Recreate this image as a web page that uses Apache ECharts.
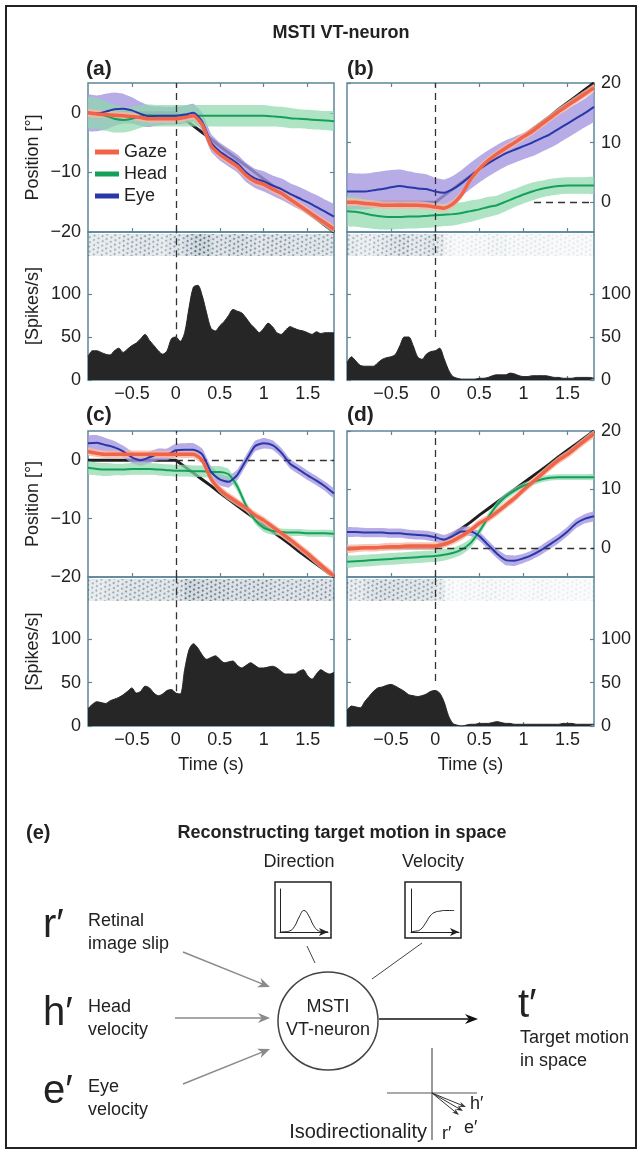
<!DOCTYPE html>
<html>
<head>
<meta charset="utf-8">
<script src="https://cdn.jsdelivr.net/npm/echarts@6/dist/echarts.min.js"></script>
<style>
html, body { margin: 0; padding: 0; background: #fff; }
#main { width: 642px; height: 1152px; }
</style>
</head>
<body>
<div id="main"></div>
<script>
// time base for eye/head traces (s) and for the spike density
const T = [-1.0,-0.9,-0.8,-0.7,-0.6,-0.5,-0.4,-0.3,-0.2,-0.1,0.0,0.1,0.2,0.3,0.4,0.5,0.6,0.7,0.8,0.9,1.0,1.1,1.2,1.3,1.4,1.5,1.6,1.7,1.8];
const TS = [-1.00,-0.95,-0.90,-0.85,-0.80,-0.75,-0.70,-0.65,-0.60,-0.55,-0.50,-0.45,-0.40,-0.35,-0.30,-0.25,-0.20,-0.15,-0.10,-0.05,0.00,
  0.05,0.10,0.15,0.20,0.25,0.30,0.35,0.40,0.45,0.50,0.55,0.60,0.65,0.70,0.75,0.80,0.85,0.90,0.95,1.00,1.05,1.10,1.15,1.20,1.25,1.30,1.35,1.40,1.45,1.50,1.55,1.60,1.65,1.70,1.75,1.80];
const RT = [-0.95,-0.85,-0.75,-0.65,-0.55,-0.45,-0.35,-0.25,-0.15,-0.05,0.05,0.15,0.25,0.35,0.45,0.55,0.65,0.75,0.85,0.95,1.05,1.15,1.25,1.35,1.45,1.55,1.65,1.75];
const X_TICKS = [-0.5, 0, 0.5, 1, 1.5];

// target position (deg)
const targetLeft  = [0,0,0,0,0,0,0,0,0,0,0,-1.1,-2.2,-3.3,-4.4,-5.6,-6.7,-7.8,-8.9,-10.0,-11.1,-12.2,-13.3,-14.4,-15.6,-16.7,-17.8,-18.9,-20.0];
const targetRight = [0,0,0,0,0,0,0,0,0,0,0,1.1,2.2,3.3,4.4,5.6,6.7,7.8,8.9,10.0,11.1,12.2,13.3,14.4,15.6,16.7,17.8,18.9,20.0];

// (a)
const gazeA = [0,-0.2,-0.3,-0.4,-0.5,-0.6,-0.8,-1.0,-1.0,-1.0,-1.0,-0.8,-0.5,-2.0,-5.5,-7.0,-8.0,-9.0,-10.5,-11.5,-12.0,-12.8,-13.5,-14.5,-15.5,-16.5,-17.5,-18.5,-19.5];
const headA = [0,-0.1,-0.5,-1.0,-1.2,-1.0,-0.6,-0.4,-0.5,-0.5,-0.5,-0.5,-0.5,-0.5,-0.5,-0.5,-0.5,-0.5,-0.5,-0.5,-0.5,-0.6,-0.7,-0.9,-1.0,-1.1,-1.2,-1.3,-1.4];
const eyeA  = [0,-0.1,0.2,0.6,0.7,0.4,-0.2,-0.6,-0.5,-0.5,-0.5,-0.3,0,-1.5,-5.0,-6.5,-7.5,-8.5,-10.0,-11.0,-11.5,-12.2,-12.8,-13.6,-14.3,-15.0,-15.8,-16.6,-17.4];
const headBandA = [2.6,2.6,2.5,2.3,2.1,2.0,1.9,1.8,1.8,1.8,1.8,1.8,1.8,1.8,1.8,1.8,1.8,1.8,1.8,1.8,1.8,1.7,1.7,1.7,1.6,1.6,1.6,1.6,1.6];
const eyeBandA  = [3.0,3.0,3.0,2.8,2.5,2.2,2.0,1.8,1.6,1.5,1.5,1.5,1.5,1.5,1.5,1.5,1.5,1.5,1.6,1.6,1.7,1.7,1.8,1.8,1.9,1.9,2.0,2.0,2.0];
const spikeA = [27,34,34,32,30,29,34,37,32,36,40,43,48,53,46,40,34,30,34,48,50,
  45,55,84,108,110,98,78,60,57,63,68,75,82,80,78,72,65,60,55,60,66,62,55,53,58,62,60,58,57,55,53,56,54,55,55,55];
const rasterA = [0.35,0.35,0.35,0.35,0.4,0.4,0.45,0.4,0.35,0.45,0.45,0.6,0.75,0.7,0.5,0.5,0.55,0.55,0.5,0.45,0.5,0.5,0.5,0.45,0.45,0.45,0.45,0.45];

// (b)
const gazeB = [0,0,-0.2,-0.3,-0.5,-0.5,-0.5,-0.5,-0.5,-0.6,-0.8,-1.0,-0.3,1.3,3.8,5.6,7.0,8.1,9.1,10.0,11.0,11.9,13.0,14.1,15.2,16.2,17.2,18.2,19.2];
const headB = [-1.5,-1.6,-1.9,-2.2,-2.4,-2.5,-2.5,-2.4,-2.4,-2.3,-2.2,-2.1,-2.0,-1.8,-1.5,-1.2,-0.8,-0.5,0.1,0.7,1.3,1.8,2.2,2.5,2.7,2.8,2.8,2.8,2.8];
const eyeB  = [1.8,1.8,1.8,2.0,2.2,2.5,2.7,2.5,2.3,2.2,1.8,1.6,2.2,3.2,4.4,5.5,6.5,7.4,8.2,8.8,9.4,10.0,10.7,11.4,12.3,13.2,14.1,15.0,16.0];
const headBandB = [2.5,2.5,2.4,2.3,2.2,2.1,2.0,2.0,2.0,2.0,2.0,1.9,1.9,1.8,1.8,1.7,1.7,1.6,1.6,1.5,1.5,1.5,1.4,1.4,1.4,1.4,1.4,1.4,1.4];
const eyeBandB  = [3.0,3.0,3.0,3.0,3.0,2.9,2.8,2.7,2.6,2.5,2.3,2.2,2.2,2.2,2.2,2.2,2.2,2.2,2.2,2.2,2.2,2.3,2.3,2.3,2.4,2.4,2.4,2.4,2.4];
const spikeB = [20,27,22,17,16,16,16,20,24,26,27,30,40,50,50,40,27,24,30,33,34,
  37,25,12,4,2,1,1,1,1,2,2,3,5,6,6,6,8,7,5,4,4,5,5,5,5,4,3,3,2,2,2,3,3,3,3,2];
const rasterB = [0.35,0.3,0.3,0.35,0.4,0.45,0.5,0.4,0.4,0.45,0.35,0.15,0.1,0.1,0.12,0.12,0.15,0.15,0.12,0.12,0.12,0.12,0.12,0.1,0.1,0.1,0.1,0.1];

// (c)
const gazeC = [1.5,1.2,1.0,1.0,1.0,1.0,1.0,1.0,1.0,1.0,1.0,1.0,1.0,0.0,-3.2,-5.0,-6.2,-7.2,-8.2,-9.4,-10.3,-11.4,-12.5,-13.6,-14.8,-16.0,-17.3,-18.6,-19.8];
const headC = [-1.3,-1.5,-1.6,-1.6,-1.6,-1.5,-1.5,-1.5,-1.6,-1.7,-1.8,-1.8,-1.9,-1.9,-2.0,-2.0,-2.4,-4.5,-7.8,-10.2,-11.6,-12.1,-12.3,-12.4,-12.4,-12.5,-12.5,-12.5,-12.6];
const eyeC  = [2.9,3.0,2.6,2.2,1.5,0.5,0.0,0.5,1.0,1.0,1.7,1.8,1.8,1.0,-2.0,-3.3,-3.7,-2.5,0.0,2.4,2.9,2.6,1.3,-0.6,-1.6,-2.6,-3.5,-4.5,-5.7];
const headBandC = [1.1,1.1,1.1,1.0,1.0,1.0,1.0,1.0,1.0,1.0,1.0,1.0,1.0,1.0,1.0,1.0,0.9,0.8,0.7,0.7,0.7,0.7,0.6,0.6,0.6,0.6,0.6,0.6,0.6];
const eyeBandC  = [1.3,1.3,1.2,1.1,1.0,1.0,1.0,1.0,1.0,1.0,1.1,1.1,1.1,1.0,1.0,1.0,1.0,0.9,0.9,0.9,0.9,0.8,0.8,0.8,0.8,0.8,0.8,0.8,0.8];
const spikeC = [20,25,28,27,26,29,31,33,36,40,44,38,40,46,44,38,35,37,41,42,38,
  37,65,88,95,90,82,77,79,81,77,73,74,75,70,67,70,73,70,67,67,68,69,67,63,60,60,60,63,65,58,54,60,65,62,60,62];
const rasterC = [0.35,0.35,0.4,0.4,0.45,0.45,0.45,0.45,0.45,0.45,0.5,0.7,0.65,0.6,0.6,0.6,0.55,0.55,0.55,0.55,0.55,0.5,0.5,0.5,0.5,0.5,0.5,0.5];

// (d)
const gazeD = [-0.2,-0.1,0,0,0.1,0.2,0.2,0.3,0.3,0.3,0.3,0.6,1.2,2.0,3.0,4.2,5.0,6.1,7.3,8.5,9.9,11.2,12.5,13.8,15.0,16.0,17.2,18.4,19.5];
const headD = [-2.4,-2.3,-2.2,-2.1,-2.0,-1.9,-1.8,-1.7,-1.6,-1.5,-1.4,-1.2,-0.9,-0.3,0.8,2.8,5.2,7.3,8.8,9.8,10.6,11.2,11.7,12.0,12.1,12.1,12.1,12.1,12.1];
const eyeD  = [2.7,2.7,2.6,2.6,2.6,2.5,2.5,2.3,2.2,2.1,1.8,1.4,2.0,2.8,2.8,2.0,0.5,-1.0,-2.1,-2.2,-1.8,-1.2,-0.4,0.6,1.6,2.8,4.2,5.0,5.4];
const headBandD = [1.0,1.0,1.0,1.0,1.0,1.0,1.0,1.0,1.0,1.0,1.0,1.0,0.9,0.9,0.8,0.7,0.7,0.6,0.6,0.5,0.5,0.5,0.5,0.5,0.5,0.5,0.5,0.5,0.5];
const eyeBandD  = [0.8,0.8,0.8,0.8,0.8,0.8,0.8,0.8,0.8,0.8,0.8,0.8,0.8,0.8,0.8,0.8,0.8,0.8,0.9,0.9,0.8,0.8,0.8,0.8,0.8,0.8,0.8,0.8,0.8];
const spikeD = [18,23,22,21,28,34,40,44,45,47,48,46,43,40,36,35,34,35,37,40,41,
  38,28,12,3,1,0,1,2,2,3,3,3,4,5,4,3,3,2,2,2,2,2,2,2,2,2,2,2,3,3,3,2,2,2,2,2];
const rasterD = [0.35,0.35,0.45,0.5,0.5,0.5,0.45,0.45,0.45,0.45,0.35,0.12,0.08,0.1,0.1,0.12,0.12,0.1,0.1,0.08,0.08,0.1,0.1,0.08,0.08,0.08,0.08,0.08];

const gazeBand = [0.65,0.65,0.65,0.65,0.65,0.65,0.65,0.65,0.65,0.65,0.65,0.65,0.65,0.65,0.65,0.65,0.65,0.65,0.65,0.65,0.65,0.65,0.65,0.65,0.65,0.65,0.65,0.65,0.65];

// tuning curves in panel (e)
const dirX = [0,0.1,0.2,0.3,0.4,0.5,0.6,0.7,0.8,0.9,1.0];
const dirY = [0,0.01,0.05,0.25,0.7,1.0,0.75,0.3,0.06,0.01,0];
const velX = [0,0.1,0.2,0.3,0.4,0.5,0.6,0.7,0.8,0.9];
const velY = [0.02,0.04,0.12,0.4,0.75,0.92,0.97,1.0,1.0,1.0];

const FONT = '"Liberation Sans", Arial, Helvetica, sans-serif';
const BOX = '#5b8796';
const INK = '#222';
const C_GAZE = '#f0644a', C_GAZE_BAND = '#f7b6a4';
const C_HEAD = '#13a05a', C_HEAD_BAND = '#8fd8ad';
const C_EYE = '#2838a8', C_EYE_BAND = '#a597de';

const panels = [
  { pos: [88, 83, 246, 149], spk: [88, 232, 246, 148], ras: [88, 234, 246, 22], right: false, yr: [-20, 5], yt: [-20, -10, 0],
    tgt: targetLeft, gaze: gazeA, head: headA, eye: eyeA, hb: headBandA, eb: eyeBandA, spike: spikeA, raster: rasterA, dashEnd: 45, zero: null, time: false },
  { pos: [347, 83, 247, 149], spk: [347, 232, 247, 148], ras: [347, 234, 247, 22], right: true, yr: [-5, 20], yt: [0, 10, 20],
    tgt: targetRight, gaze: gazeB, head: headB, eye: eyeB, hb: headBandB, eb: eyeBandB, spike: spikeB, raster: rasterB, dashEnd: 50, zero: 1.12, time: false },
  { pos: [88, 431, 246, 146], spk: [88, 577, 246, 149], ras: [88, 579, 246, 22], right: false, yr: [-20, 5], yt: [-20, -10, 0],
    tgt: targetLeft, gaze: gazeC, head: headC, eye: eyeC, hb: headBandC, eb: eyeBandC, spike: spikeC, raster: rasterC, dashEnd: 40, zero: 0, time: true },
  { pos: [347, 431, 247, 146], spk: [347, 577, 247, 149], ras: [347, 579, 247, 22], right: true, yr: [-5, 20], yt: [0, 10, 20],
    tgt: targetRight, gaze: gazeD, head: headD, eye: eyeD, hb: headBandD, eb: eyeBandD, spike: spikeD, raster: rasterD, dashEnd: 52, zero: 0, time: true }
];

function fmt(v) { return String(v).replace('-', '\u2212'); }
function zip(xs, ys) { return xs.map((x, i) => [x, ys[i]]); }
function box(r) { return { left: r[0], top: r[1], width: r[2], height: r[3] }; }

const grids = [], xAxes = [], yAxes = [], series = [];
const label18 = { fontSize: 18, fontFamily: FONT, color: INK };
const tick = (vals) => ({ show: true, inside: true, length: 4, customValues: vals, lineStyle: { color: BOX, width: 1.2 } });
const noLine = { show: false, onZero: false };

function plainX(g, extra) {
  xAxes.push(Object.assign({ gridIndex: g, type: 'value', min: -1, max: 1.8, axisLine: noLine,
    axisTick: tick(X_TICKS), axisLabel: { show: false }, splitLine: { show: false } }, extra));
  return xAxes.length - 1;
}
function plainY(g, extra) {
  yAxes.push(Object.assign({ gridIndex: g, type: 'value', axisLine: noLine, splitLine: { show: false } }, extra));
  return yAxes.length - 1;
}

// confidence band drawn as one polygon through the axis scales
function band(xi, yi, mid, hw, color, opacity) {
  const lo = mid.map((v, i) => v - hw[i]);
  const hi = mid.map((v, i) => v + hw[i]);
  series.push({
    type: 'custom', xAxisIndex: xi, yAxisIndex: yi, silent: true, z: 2, clip: true,
    data: T.map((t, i) => [t, lo[i], hi[i]]),
    encode: { x: 0, y: [1, 2] },
    renderItem: function (params, api) {
      if (params.dataIndex !== 0) return null;
      const top = T.map((t, i) => api.coord([t, hi[i]]));
      const bot = T.map((t, i) => api.coord([t, lo[i]])).reverse();
      return { type: 'polygon', shape: { points: top.concat(bot), smooth: 0.15 }, style: { fill: color, opacity: opacity } };
    }
  });
}

panels.forEach((p, k) => {
  const side = p.right ? 'right' : 'left';
  const other = p.right ? 'left' : 'right';

  // position panel
  grids.push(Object.assign(box(p.pos), { show: true, borderColor: BOX, borderWidth: 1.5 }));
  const gp = grids.length - 1;
  const xp = plainX(gp, { position: 'bottom' });
  plainX(gp, { position: 'top' });
  const yp = plainY(gp, {
    min: p.yr[0], max: p.yr[1], position: side,
    axisTick: tick(p.yt),
    axisLabel: Object.assign({ customValues: p.yt, formatter: fmt, margin: 7 }, label18),
    name: p.right ? '' : 'Position [\u00b0]', nameLocation: 'middle', nameRotate: 90, nameGap: 46,
    nameTextStyle: label18
  });
  plainY(gp, { min: p.yr[0], max: p.yr[1], position: other, axisTick: tick(p.yt), axisLabel: { show: false } });

  const marks = [{ xAxis: 0 }];
  if (p.zero !== null) marks.push([{ coord: [p.zero, 0] }, { coord: [1.8, 0] }]);
  series.push({ type: 'line', name: 'Target', xAxisIndex: xp, yAxisIndex: yp, data: zip(T, p.tgt), symbol: 'none', z: 1,
    lineStyle: { color: '#1e1e1e', width: 3 }, itemStyle: { color: '#1e1e1e' },
    markLine: { symbol: 'none', silent: true, label: { show: false }, lineStyle: { color: '#333', type: [7, 5], width: 1.3 }, data: marks } });

  band(xp, yp, p.eye, p.eb, C_EYE_BAND, 0.8);
  band(xp, yp, p.head, p.hb, C_HEAD_BAND, 0.72);
  band(xp, yp, p.gaze, gazeBand, C_GAZE_BAND, 0.8);

  series.push({ type: 'line', name: 'Head', xAxisIndex: xp, yAxisIndex: yp, data: zip(T, p.head), symbol: 'none', z: 4, smooth: 0.2,
    lineStyle: { color: C_HEAD, width: 2 }, itemStyle: { color: C_HEAD } });
  series.push({ type: 'line', name: 'Eye', xAxisIndex: xp, yAxisIndex: yp, data: zip(T, p.eye), symbol: 'none', z: 5, smooth: 0.2,
    lineStyle: { color: C_EYE, width: 2 }, itemStyle: { color: C_EYE } });
  series.push({ type: 'line', name: 'Gaze', xAxisIndex: xp, yAxisIndex: yp, data: zip(T, p.gaze), symbol: 'none', z: 6, smooth: 0.2,
    lineStyle: { color: C_GAZE, width: 3.5 }, itemStyle: { color: C_GAZE } });

  // spike density panel (raster strip sits in its top part)
  grids.push(Object.assign(box(p.spk), { show: true, borderColor: BOX, borderWidth: 1.5 }));
  const gs = grids.length - 1;
  const xs = plainX(gs, {
    position: 'bottom',
    axisLabel: Object.assign({ show: true, customValues: X_TICKS, formatter: fmt, margin: 5 }, label18),
    name: p.time ? 'Time (s)' : '', nameLocation: 'middle', nameGap: 30, nameTextStyle: label18
  });
  const ys = plainY(gs, {
    min: 0, max: 172, position: side, axisTick: tick([0, 50, 100]),
    axisLabel: Object.assign({ customValues: [0, 50, 100], margin: 7 }, label18),
    name: p.right ? '' : '[Spikes/s]', nameLocation: 'middle', nameRotate: 90, nameGap: 46, nameTextStyle: label18
  });
  plainY(gs, { min: 0, max: 172, position: other, axisTick: tick([0, 50, 100]), axisLabel: { show: false } });
  series.push({ type: 'line', xAxisIndex: xs, yAxisIndex: ys, data: zip(TS, p.spike), symbol: 'none', smooth: 0.3, z: 3,
    lineStyle: { color: '#262626', width: 1 }, areaStyle: { color: '#262626', opacity: 1 }, silent: true,
    markLine: { symbol: 'none', silent: true, label: { show: false }, lineStyle: { color: '#333', type: [7, 5], width: 1.3 },
      data: [[{ coord: [0, p.dashEnd] }, { coord: [0, 172] }]] } });

  // raster strip: spike density per 0.1 s bin, shown as a speckle texture
  grids.push(box(p.ras));
  const gr = grids.length - 1;
  xAxes.push({ gridIndex: gr, type: 'value', min: -1, max: 1.8, show: false });
  const xr = xAxes.length - 1;
  yAxes.push({ gridIndex: gr, type: 'value', min: 0, max: 1, show: false });
  const yr = yAxes.length - 1;
  series.push({ type: 'bar', xAxisIndex: xr, yAxisIndex: yr, barWidth: 9, silent: true, z: 2,
    data: RT.map((t, i) => ({ value: [t, 1], itemStyle: {
      color: 'rgba(110,140,160,' + (p.raster[i] * 0.45).toFixed(3) + ')',
      decal: { symbol: 'circle', symbolSize: 1, dashArrayX: [[2, 3], [0, 2, 2, 1]], dashArrayY: [2, 2], rotation: 0.6,
        color: 'rgba(35,50,65,' + Math.min(1, p.raster[i] * 1.1).toFixed(3) + ')' } } })) });
});

// small tuning-curve plots in (e)
function miniPlot(left, xsArr, ysArr) {
  grids.push({ left: left, top: 889, width: 48, height: 43 });
  const g = grids.length - 1;
  xAxes.push({ gridIndex: g, type: 'value', min: 0, max: 1, axisTick: { show: false }, axisLabel: { show: false }, splitLine: { show: false },
    axisLine: { show: true, symbol: ['none', 'arrow'], symbolSize: [6, 9], lineStyle: { color: INK, width: 1 } } });
  yAxes.push({ gridIndex: g, type: 'value', min: 0, max: 2, axisTick: { show: false }, axisLabel: { show: false }, splitLine: { show: false },
    axisLine: { show: true, lineStyle: { color: INK, width: 1 } } });
  series.push({ type: 'line', xAxisIndex: xAxes.length - 1, yAxisIndex: yAxes.length - 1, data: zip(xsArr, ysArr),
    symbol: 'none', smooth: true, lineStyle: { color: INK, width: 1 }, silent: true });
}
miniPlot(280, dirX, dirY);
miniPlot(411, velX, velY);

// diagram helpers
function txt(x, y, s, size, weight, align) {
  return { type: 'text', x: x, y: y, silent: true,
    style: { text: s, font: (weight || 'normal') + ' ' + (size || 18) + 'px ' + FONT, fill: INK, align: align || 'left', verticalAlign: 'middle' } };
}
function arrow(x1, y1, x2, y2, color, lw, hl, hw) {
  const a = Math.atan2(y2 - y1, x2 - x1);
  const bx = x2 - hl * Math.cos(a), by = y2 - hl * Math.sin(a);
  const px = -Math.sin(a) * hw, py = Math.cos(a) * hw;
  const nx = bx + hl * 0.3 * Math.cos(a), ny = by + hl * 0.3 * Math.sin(a);
  return [
    { type: 'line', silent: true, shape: { x1: x1, y1: y1, x2: nx, y2: ny }, style: { stroke: color, lineWidth: lw } },
    { type: 'polygon', silent: true, shape: { points: [[x2, y2], [bx + px, by + py], [nx, ny], [bx - px, by - py]] }, style: { fill: color } }
  ];
}
function seg(x1, y1, x2, y2, color, lw) {
  return { type: 'line', silent: true, shape: { x1: x1, y1: y1, x2: x2, y2: y2 }, style: { stroke: color, lineWidth: lw } };
}

const graphic = [
  { type: 'rect', silent: true, shape: { x: 6, y: 6, width: 630, height: 1142 }, style: { fill: 'none', stroke: INK, lineWidth: 2 } },
  txt(341, 33, 'MSTI VT-neuron', 18, 'bold', 'center'),
  txt(86, 69, '(a)', 21, 'bold'),
  txt(347, 69, '(b)', 21, 'bold'),
  txt(86, 415, '(c)', 21, 'bold'),
  txt(347, 415, '(d)', 21, 'bold'),
  txt(26, 833, '(e)', 20, 'bold'),
  txt(342, 833, 'Reconstructing target motion in space', 18, 'bold', 'center'),
  txt(299, 862, 'Direction', 18, 'normal', 'center'),
  txt(433, 862, 'Velocity', 18, 'normal', 'center'),
  { type: 'rect', silent: true, shape: { x: 275, y: 882, width: 56, height: 56 }, style: { fill: 'none', stroke: INK, lineWidth: 1.5 } },
  { type: 'rect', silent: true, shape: { x: 405, y: 882, width: 56, height: 56 }, style: { fill: 'none', stroke: INK, lineWidth: 1.5 } },
  seg(307, 946, 315, 963, '#444', 1),
  seg(422, 943, 372, 979, '#444', 1),
  { type: 'ellipse', silent: true, shape: { cx: 328, cy: 1021, rx: 50, ry: 49 }, style: { fill: 'none', stroke: '#444', lineWidth: 1.5 } },
  txt(328, 1007, 'MSTI', 18, 'normal', 'center'),
  txt(328, 1030, 'VT-neuron', 18, 'normal', 'center'),
  txt(43, 926, 'r\u2032', 40),
  txt(88, 921, 'Retinal', 18),
  txt(88, 944, 'image slip', 18),
  txt(43, 1014, 'h\u2032', 40),
  txt(88, 1007, 'Head', 18),
  txt(88, 1030, 'velocity', 18),
  txt(43, 1092, 'e\u2032', 40),
  txt(88, 1087, 'Eye', 18),
  txt(88, 1110, 'velocity', 18),
  ...arrow(183, 952, 270, 987, '#8a8a8a', 1.5, 12, 5),
  ...arrow(175, 1018, 270, 1018, '#8a8a8a', 1.5, 12, 5),
  ...arrow(183, 1084, 270, 1049, '#8a8a8a', 1.5, 12, 5),
  ...arrow(379, 1019, 478, 1019, '#111', 1.5, 13, 5),
  txt(518, 1006, 't\u2032', 40),
  txt(520, 1038, 'Target motion', 18),
  txt(520, 1061, 'in space', 18),
  seg(432, 1048, 432, 1140, '#555', 1.2),
  seg(387, 1093, 477, 1093, '#555', 1.2),
  ...arrow(432, 1093, 466, 1107, '#333', 1, 7, 2.5),
  ...arrow(432, 1093, 463, 1111, '#333', 1, 7, 2.5),
  ...arrow(432, 1093, 459, 1115, '#333', 1, 7, 2.5),
  txt(470, 1104, 'h\u2032', 18),
  txt(464, 1128, 'e\u2032', 18),
  txt(442, 1134, 'r\u2032', 18),
  txt(427, 1132, 'Isodirectionality', 20, 'normal', 'right')
];

const chart = echarts.init(document.getElementById('main'));
chart.setOption({
  animation: false,
  backgroundColor: '#fff',
  textStyle: { fontFamily: FONT },
  legend: {
    data: ['Gaze', 'Head', 'Eye'], orient: 'vertical', left: 90, top: 138, icon: 'rect',
    itemWidth: 24, itemHeight: 5, itemGap: 4, selectedMode: false,
    textStyle: { fontSize: 18, fontFamily: FONT, color: INK }
  },
  grid: grids,
  xAxis: xAxes,
  yAxis: yAxes,
  series: series,
  graphic: graphic
});
</script>
</body>
</html>
